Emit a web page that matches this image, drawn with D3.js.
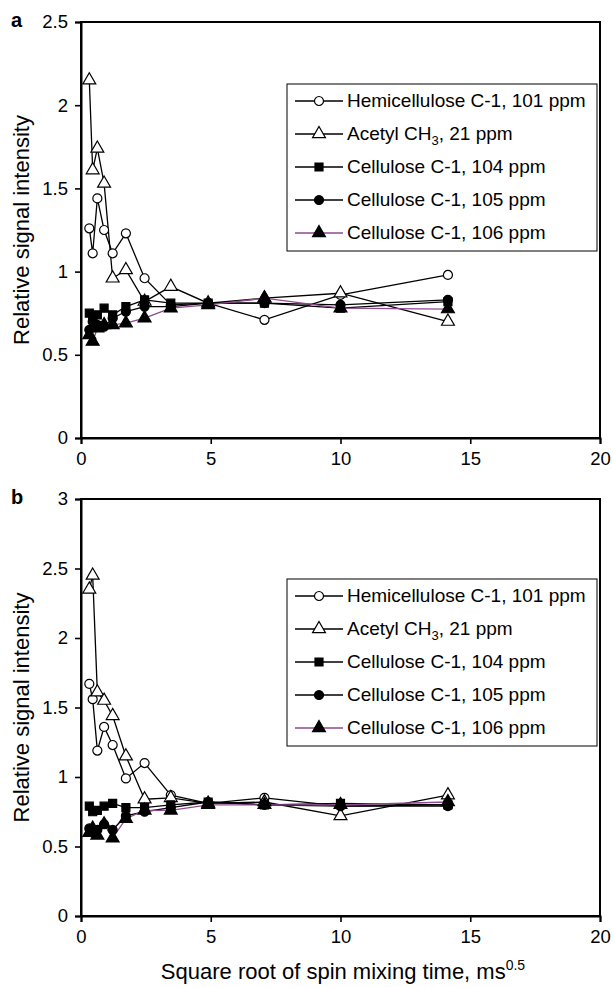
<!DOCTYPE html>
<html><head><meta charset="utf-8">
<script src="https://cdn.jsdelivr.net/npm/d3@7"></script>
<style>body{margin:0;background:#fff}svg{display:block;font-family:"Liberation Sans",Arial,sans-serif}</style>
</head><body>
<script>
const xValues = [0.32, 0.45, 0.63, 0.89, 1.22, 1.73, 2.45, 3.46, 4.9, 7.07, 10, 14.14];
const seriesNames = ["Hemicellulose C-1, 101 ppm", "Acetyl CH3, 21 ppm", "Cellulose C-1, 104 ppm", "Cellulose C-1, 105 ppm", "Cellulose C-1, 106 ppm"];
// panel a
const aHemi   = [1.26, 1.11, 1.44, 1.25, 1.11, 1.23, 0.96, 0.80, 0.81, 0.71, 0.86, 0.98];
const aAcetyl = [2.15, 1.61, 1.74, 1.53, 0.96, 1.01, 0.82, 0.91, 0.81, 0.84, 0.87, 0.70];
const aC104   = [0.75, 0.72, 0.74, 0.78, 0.74, 0.79, 0.83, 0.81, 0.81, 0.81, 0.78, 0.82];
const aC105   = [0.65, 0.70, 0.68, 0.67, 0.72, 0.76, 0.79, 0.79, 0.81, 0.81, 0.80, 0.83];
const aC106   = [0.62, 0.58, 0.66, 0.68, 0.68, 0.69, 0.72, 0.78, 0.80, 0.84, 0.78, 0.775];
// panel b
const bHemi   = [1.67, 1.56, 1.19, 1.36, 1.23, 0.99, 1.10, 0.87, 0.81, 0.85, 0.79, 0.80];
const bAcetyl = [2.35, 2.45, 1.61, 1.55, 1.44, 1.15, 0.84, 0.85, 0.81, 0.82, 0.72, 0.87];
const bC104   = [0.79, 0.75, 0.76, 0.79, 0.81, 0.78, 0.78, 0.80, 0.82, 0.80, 0.81, 0.80];
const bC105   = [0.63, 0.60, 0.62, 0.66, 0.62, 0.72, 0.75, 0.78, 0.82, 0.80, 0.79, 0.79];
const bC106   = [0.60, 0.63, 0.58, 0.66, 0.56, 0.70, 0.76, 0.76, 0.80, 0.80, 0.80, 0.82];
const xTicks = [0, 5, 10, 15, 20];
const aYTicks = [0, 0.5, 1, 1.5, 2, 2.5];
const bYTicks = [0, 0.5, 1, 1.5, 2, 2.5, 3];

const W = 613, H = 987;
const svg = d3.select("body").append("svg").attr("width", W).attr("height", H);

const symbols = [
  {type: d3.symbolCircle, size: 64, fill: "#fff"},
  {type: d3.symbolTriangle, size: 72, fill: "#fff"},
  {type: d3.symbolSquare, size: 64, fill: "#000"},
  {type: d3.symbolCircle, size: 64, fill: "#000"},
  {type: d3.symbolTriangle, size: 72, fill: "#000"}
];
const lineColors = ["#000", "#000", "#000", "#000", "#8e4a8e"];

function panel(opts) {
  const x = d3.scaleLinear().domain([0, 20]).range([81, 600]);
  const y = d3.scaleLinear().domain([0, opts.yMax]).range([opts.bottom, opts.top]);
  const g = svg.append("g");
  g.append("rect").attr("x", 81).attr("y", opts.top).attr("width", 519).attr("height", opts.bottom - opts.top)
    .attr("fill", "none").attr("stroke", "#000").attr("stroke-width", 2);
  const yAx = g.append("g").attr("transform", "translate(81,0)")
    .call(d3.axisLeft(y).tickValues(opts.yTicks).tickSize(6).tickPadding(7).tickFormat(d3.format("")));
  const xAx = g.append("g").attr("transform", `translate(0,${opts.bottom})`)
    .call(d3.axisBottom(x).tickValues(xTicks).tickSize(6).tickPadding(8));
  [yAx, xAx].forEach(a => {
    a.select(".domain").attr("stroke-width", 2);
    a.selectAll(".tick line").attr("stroke-width", 1.6);
    a.selectAll("text").attr("font-size", 18.5).attr("fill", "#000").attr("font-family", "Liberation Sans, Arial, sans-serif");
  });
  svg.append("text").attr("x", 11).attr("y", opts.top + 5).attr("font-size", 20).attr("font-weight", "bold").text(opts.letter);
  svg.append("text").attr("transform", `translate(29,${(opts.top + opts.bottom) / 2}) rotate(-90)`)
    .attr("text-anchor", "middle").attr("font-size", 22).text("Relative signal intensity");

  const line = d3.line().x((d, i) => x(xValues[i])).y(d => y(d));
  opts.series.forEach((s, k) => {
    g.append("path").datum(s).attr("d", line).attr("fill", "none").attr("stroke", lineColors[k]).attr("stroke-width", 1.3);
  });
  opts.series.forEach((s, k) => {
    const sym = d3.symbol().type(symbols[k].type).size(symbols[k].size);
    g.selectAll(null).data(s).enter().append("path")
      .attr("d", sym)
      .attr("transform", (d, i) => `translate(${x(xValues[i])},${y(d)})`)
      .attr("fill", symbols[k].fill).attr("stroke", "#000").attr("stroke-width", 1.2);
  });
  const lg = g.append("g");
  lg.append("rect").attr("x", 287).attr("y", opts.legTop).attr("width", 310).attr("height", 167)
    .attr("fill", "#fff").attr("stroke", "#000").attr("stroke-width", 1);
  seriesNames.forEach((name, k) => {
    const yy = opts.legTop + 17 + k * 33;
    lg.append("line").attr("x1", 295).attr("x2", 343).attr("y1", yy).attr("y2", yy)
      .attr("stroke", lineColors[k]).attr("stroke-width", 1.3);
    lg.append("path").attr("d", d3.symbol().type(symbols[k].type).size(symbols[k].size))
      .attr("transform", `translate(319,${yy})`).attr("fill", symbols[k].fill).attr("stroke", "#000").attr("stroke-width", 1.2);
    const t = lg.append("text").attr("x", 347).attr("y", yy + 6).attr("font-size", 19);
    if (name.includes("CH3")) {
      t.append("tspan").text("Acetyl CH");
      t.append("tspan").attr("font-size", 13).attr("dy", 5).text("3");
      t.append("tspan").attr("dy", -5).text(", 21 ppm");
    } else t.text(name);
  });
}

panel({letter: "a", top: 22, bottom: 438, yMax: 2.5, yTicks: aYTicks, legTop: 84,
  series: [aHemi, aAcetyl, aC104, aC105, aC106]});
panel({letter: "b", top: 499, bottom: 916, yMax: 3, yTicks: bYTicks, legTop: 579,
  series: [bHemi, bAcetyl, bC104, bC105, bC106]});

const xt = svg.append("text").attr("x", 343).attr("y", 979).attr("text-anchor", "middle").attr("font-size", 22);
xt.append("tspan").text("Square root of spin mixing time, ms");
xt.append("tspan").attr("font-size", 14).attr("dy", -9).text("0.5");
</script>
</body></html>
